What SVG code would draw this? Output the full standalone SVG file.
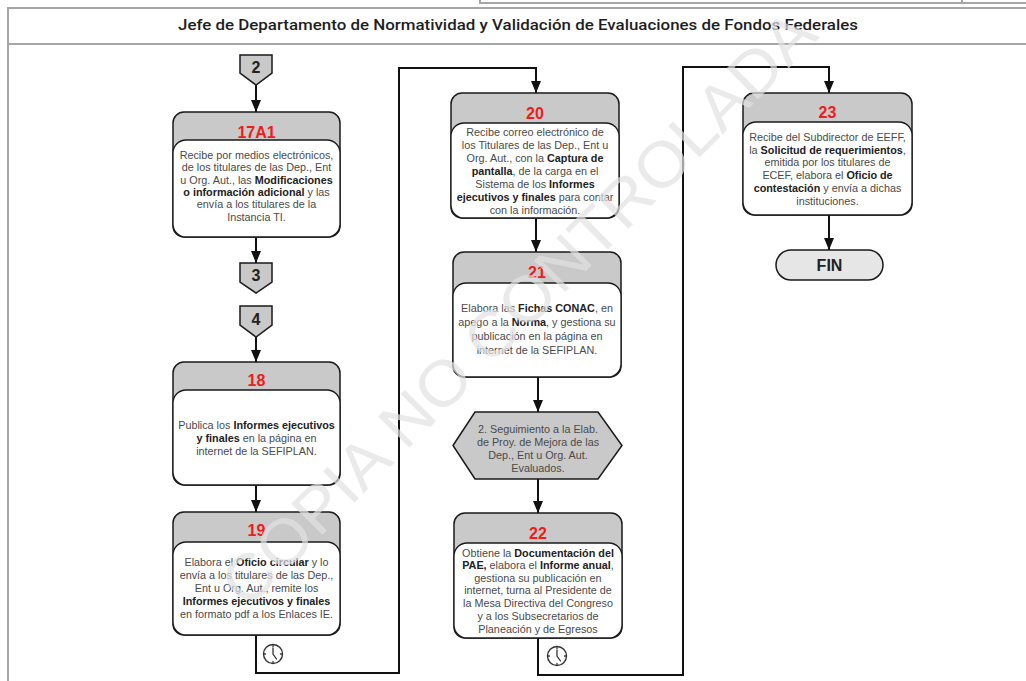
<svg xmlns="http://www.w3.org/2000/svg" width="1026" height="681" viewBox="0 0 1026 681">
<style>
.frame{fill:none;stroke:#a6a6a6;stroke-width:2}
.box{fill:#c9c9c9;stroke:#1a1a1a;stroke-width:1.5}
.inner{fill:#fff;stroke:#1a1a1a;stroke-width:1.3}
.gray{fill:#c9c9c9;stroke:#1a1a1a;stroke-width:1.5}
.num{font-family:'Liberation Sans',Arial,sans-serif;font-weight:bold;font-size:16px;fill:#ee1c1c;text-anchor:middle}
.t{font-family:'Liberation Sans',Arial,sans-serif;font-size:10.8px;fill:#4a4a4a;text-anchor:middle}
.b{font-weight:bold;fill:#222}
.lbl{font-family:'Liberation Sans',Arial,sans-serif;font-weight:bold;font-size:16px;fill:#222;text-anchor:middle}
.conn{fill:none;stroke:#111;stroke-width:2}
.clock{fill:#fff;stroke:#333;stroke-width:1.4}
.hand{fill:none;stroke:#333;stroke-width:1.3;stroke-linecap:round}
</style>
<defs>
<marker id="ah" markerUnits="userSpaceOnUse" markerWidth="12" markerHeight="10" refX="12" refY="5" orient="auto">
<path d="M0,0 L12,5 L0,10 z" fill="#111"/>
</marker>
<g id="clk">
<circle class="clock" r="9.5"/>
<path class="hand" d="M0,-6 V0 L3.5,5"/>
<path class="hand" d="M0,-8.5V-7.5 M8.5,0H7.5 M0,8.5V7.5 M-8.5,0H-7.5"/>
</g>
</defs>
<rect width="1026" height="681" fill="#fff"/>
<g id="frame">
<path class="frame" d="M480,0 V3 H1026 M962,0 V3" stroke-width="1.2"/>
<path class="frame" d="M8,681 V8 H1026 M8,44 H1026"/>
<text x="518" y="30" font-family="Roboto,'Liberation Sans',sans-serif" font-weight="500" font-size="15.5" fill="#1e1e1e" text-anchor="middle" textLength="680" lengthAdjust="spacingAndGlyphs">Jefe de Departamento de Normatividad y Validación de Evaluaciones de Fondos Federales</text>
</g>
<g id="connectors">
<path class="conn" d="M256,85 V112" marker-end="url(#ah)"/>
<path class="conn" d="M256,237 V263" marker-end="url(#ah)"/>
<path class="conn" d="M256,337 V362" marker-end="url(#ah)"/>
<path class="conn" d="M256,485 V512" marker-end="url(#ah)"/>
<path class="conn" d="M256,635 V673 H399 V68 H536 V93" marker-end="url(#ah)"/>
<path class="conn" d="M536,218 V252" marker-end="url(#ah)"/>
<path class="conn" d="M538,377 V412" marker-end="url(#ah)"/>
<path class="conn" d="M538,479 V513" marker-end="url(#ah)"/>
<path class="conn" d="M538,638 V675 H683 V67 H829 V93" marker-end="url(#ah)"/>
<path class="conn" d="M829,215 V250" marker-end="url(#ah)"/>
<use href="#clk" x="273" y="654"/>
<use href="#clk" x="557" y="656"/>
</g>
<g id="c2">
<path class="gray" d="M240,55 H272 V73 L256,85 L240,73 Z"/>
<text class="lbl" x="256" y="73">2</text>
</g>
<g id="c3">
<path class="gray" d="M240,263 H272 V282 L256,293 L240,282 Z"/>
<text class="lbl" x="256" y="281">3</text>
</g>
<g id="c4">
<path class="gray" d="M240,306 H272 V325 L256,337 L240,325 Z"/>
<text class="lbl" x="256" y="325">4</text>
</g>
<g id="n17A1">
<rect class="box" x="173" y="112" width="167" height="125" rx="11"/>
<rect class="inner" x="173" y="140" width="167" height="97" rx="13"/>
<text class="num" x="256.5" y="137.5">17A1</text>
<text class="t" x="256.5" y="159">Recibe por medios electrónicos,</text>
<text class="t" x="256.5" y="171.3">de los titulares  de las Dep., Ent</text>
<text class="t" x="256.5" y="183.6">u Org. Aut., las <tspan class="b">Modificaciones</tspan></text>
<text class="t" x="256.5" y="195.9"><tspan class="b">o información  adicional</tspan> y las</text>
<text class="t" x="256.5" y="208.2">envía  a los titulares de la</text>
<text class="t" x="256.5" y="220.5">Instancia TI.</text>
</g>
<g id="n18">
<rect class="box" x="173" y="362" width="167" height="123" rx="11"/>
<rect class="inner" x="173" y="390" width="167" height="95" rx="13"/>
<text class="num" x="256.5" y="386">18</text>
<text class="t" x="256.5" y="429">Publica los <tspan class="b">Informes ejecutivos</tspan></text>
<text class="t" x="256.5" y="442"><tspan class="b">y finales</tspan> en la página en</text>
<text class="t" x="256.5" y="455">internet de la SEFIPLAN.</text>
</g>
<g id="n19">
<rect class="box" x="173" y="512" width="167" height="123" rx="11"/>
<rect class="inner" x="173" y="542" width="167" height="93" rx="13"/>
<text class="num" x="256.5" y="536">19</text>
<text class="t" x="256.5" y="566">Elabora el <tspan class="b">Oficio circular</tspan> y lo</text>
<text class="t" x="256.5" y="579">envía a los titulares de las Dep.,</text>
<text class="t" x="256.5" y="592">Ent u Org. Aut., remite los</text>
<text class="t" x="256.5" y="605"><tspan class="b">Informes ejecutivos y finales</tspan></text>
<text class="t" x="256.5" y="618">en formato pdf a los Enlaces IE.</text>
</g>
<g id="n20">
<rect class="box" x="451" y="93" width="168" height="125" rx="11"/>
<rect class="inner" x="451" y="123" width="168" height="95" rx="13"/>
<text class="num" x="535" y="118.5">20</text>
<text class="t" x="535" y="136">Recibe correo electrónico de</text>
<text class="t" x="535" y="149">los Titulares de las Dep., Ent u</text>
<text class="t" x="535" y="162">Org. Aut., con la <tspan class="b">Captura de</tspan></text>
<text class="t" x="535" y="175"><tspan class="b">pantalla</tspan>,  de la carga en el</text>
<text class="t" x="535" y="188">Sistema de los <tspan class="b">Informes</tspan></text>
<text class="t" x="535" y="201"><tspan class="b">ejecutivos y finales</tspan> para contar</text>
<text class="t" x="535" y="213.5">con la información.</text>
</g>
<g id="n21">
<rect class="box" x="453" y="252" width="168" height="125" rx="11"/>
<rect class="inner" x="453" y="283" width="168" height="94" rx="13"/>
<text class="num" x="537" y="278">21</text>
<text class="t" x="537" y="312">Elabora las <tspan class="b">Fichas CONAC</tspan>, en</text>
<text class="t" x="537" y="326">apego a la <tspan class="b">Norma</tspan>, y gestiona su</text>
<text class="t" x="537" y="340">publicación en la página en</text>
<text class="t" x="537" y="354">internet de la SEFIPLAN.</text>
</g>
<g id="nSeg">
<path class="gray" d="M453,445.5 L475,412 H598 L622,445.5 L598,479 H475 Z"/>
<text class="t" x="538" y="433">2. Seguimiento a la Elab.</text>
<text class="t" x="538" y="446">de Proy. de Mejora de las</text>
<text class="t" x="538" y="459">Dep., Ent u Org. Aut.</text>
<text class="t" x="538" y="471.5">Evaluados.</text>
</g>
<g id="n22">
<rect class="box" x="454" y="513" width="168" height="125" rx="11"/>
<rect class="inner" x="454" y="543" width="168" height="95" rx="13"/>
<text class="num" x="538" y="538.5">22</text>
<text class="t" x="538" y="556.5">Obtiene la <tspan class="b">Documentación del</tspan></text>
<text class="t" x="538" y="569"><tspan class="b">PAE,</tspan> elabora el <tspan class="b">Informe anual</tspan>,</text>
<text class="t" x="538" y="581.5">gestiona su publicación en</text>
<text class="t" x="538" y="594">internet, turna al Presidente de</text>
<text class="t" x="538" y="607">la Mesa Directiva del Congreso</text>
<text class="t" x="538" y="620">y a los Subsecretarios de</text>
<text class="t" x="538" y="632.5">Planeación y de Egresos</text>
</g>
<g id="n23">
<rect class="box" x="743" y="93" width="169" height="122" rx="11"/>
<rect class="inner" x="743" y="122" width="169" height="93" rx="13"/>
<text class="num" x="827.5" y="117.5">23</text>
<text class="t" x="827.5" y="141">Recibe del Subdirector de EEFF,</text>
<text class="t" x="827.5" y="153.5">la <tspan class="b">Solicitud de requerimientos</tspan>,</text>
<text class="t" x="827.5" y="166">emitida por los titulares de</text>
<text class="t" x="827.5" y="179">ECEF, elabora el <tspan class="b">Oficio de</tspan></text>
<text class="t" x="827.5" y="192"><tspan class="b">contestación</tspan> y envía a dichas</text>
<text class="t" x="827.5" y="204.5">instituciones.</text>
</g>
<g id="nFIN">
<rect x="776" y="250" width="107" height="30" rx="15" fill="#e6e6e6" stroke="#1a1a1a" stroke-width="1.5"/>
<text class="lbl" x="829.5" y="271">FIN</text>
</g>
<text x="0" y="22" transform="translate(518,308) rotate(-45)" font-family="'Liberation Sans',Arial,sans-serif" font-size="64" fill="#e2e2e2" opacity="0.7" text-anchor="middle" textLength="810" lengthAdjust="spacingAndGlyphs">COPIA NO CONTROLADA</text>
</svg>
